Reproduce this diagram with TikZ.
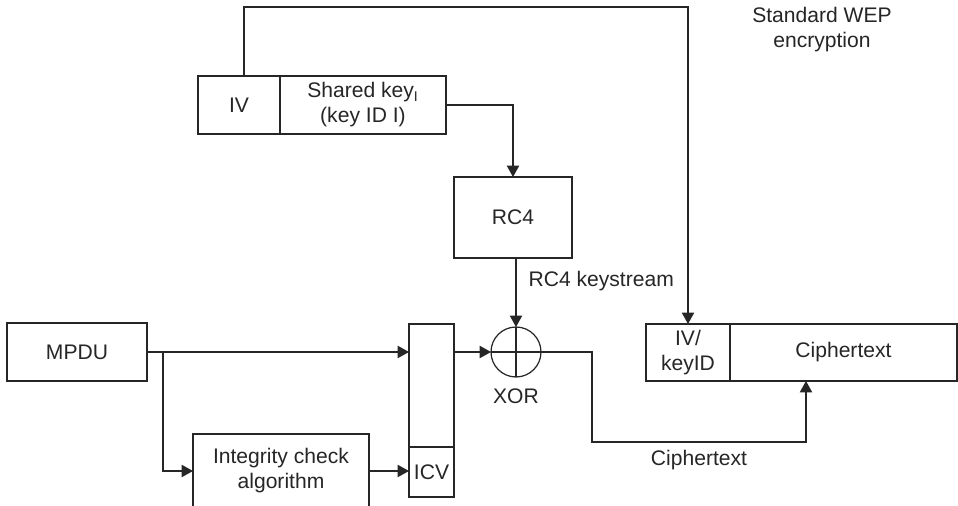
\documentclass[tikz,border=0pt]{standalone}
\usepackage{fontspec}
\setmainfont{Liberation Sans}
\usetikzlibrary{arrows.meta,positioning}

\begin{document}
\begin{tikzpicture}[x=0.02cm, y=-0.02cm, line width=0.7pt, color=black!85,
  font=\fontsize{12}{14.2}\selectfont,
  blk/.style={draw, outer sep=0pt, inner sep=2pt, align=center},
  lbl/.style={inner sep=0pt, align=center},
  arr/.style={-{Triangle[length=6.5pt,width=7pt]}}]
  \useasboundingbox (0,0) rectangle (958,506);
  % key material
  \node[blk, minimum width=1.64cm, minimum height=1.16cm] (iv) at (239,105) {IV};
  \node[blk, minimum width=3.32cm, minimum height=1.16cm, right=0pt of iv] (key) {Shared key\textsubscript{I}\\(key ID I)};
  \node[blk, minimum width=2.36cm, minimum height=1.62cm] (rc4) at (513,217.5) {RC4};
  \node[draw, circle, minimum size=1cm, inner sep=0pt, outer sep=0pt] (xor) at (516,352) {};
  \node[lbl, below=0.22cm of xor] (xorl) {XOR};
  % plaintext side
  \node[blk, minimum width=2.8cm, minimum height=1.16cm] (mpdu) at (77,352) {MPDU};
  \node[blk, minimum width=0.9cm, minimum height=2.46cm] (data) at (431.5,385.5) {};
  \node[blk, minimum width=0.9cm, minimum height=1cm, below=0pt of data] (icv) {ICV};
  \node[blk, minimum width=3.52cm, minimum height=1.48cm] (icheck) at (281,471) {Integrity check\\algorithm};
  % output frame
  \node[blk, minimum width=1.68cm, minimum height=1.14cm] (ivid) at (688,352.5) {IV/\\keyID};
  \node[blk, minimum width=4.54cm, minimum height=1.14cm, right=0pt of ivid] (ctext) {Ciphertext};
  \node[lbl] (title) at (822,30) {Standard WEP\\encryption};

  \coordinate (top) at (0,7);
  \coordinate (ivtop) at ([xshift=0.1cm]iv.north);
  \draw[arr] (ivtop) -- (ivtop |- top) -| (ivid.north);
  \draw[arr] (key.east) -| (rc4.north);
  \draw[arr] (rc4.south -| xor) -- node[lbl, pos=0.33, right=0.24cm] (ks) {RC4 keystream} (xor.north);
  \draw (xor.north) -- (xor.south);
  \draw (xor.west) -- (xor.east);
  \draw[arr] (mpdu.east) -- (mpdu.east -| data.west);
  \coordinate (br) at ([xshift=0.32cm]mpdu.east);
  \draw[arr] (br) |- (icheck.west);
  \draw[arr] (icheck.east) -- (icheck.east -| icv.west);
  \draw[arr] (data.east |- xor) -- (xor.west);
  \coordinate (c1) at (592,442);
  \coordinate (c2) at (806,442);
  \draw[arr] (xor.east) -| (c1) -- node[lbl, below=0.16cm] (ctl) {Ciphertext} (c2) -- (c2 |- ctext.south);
\end{tikzpicture}
\end{document}
